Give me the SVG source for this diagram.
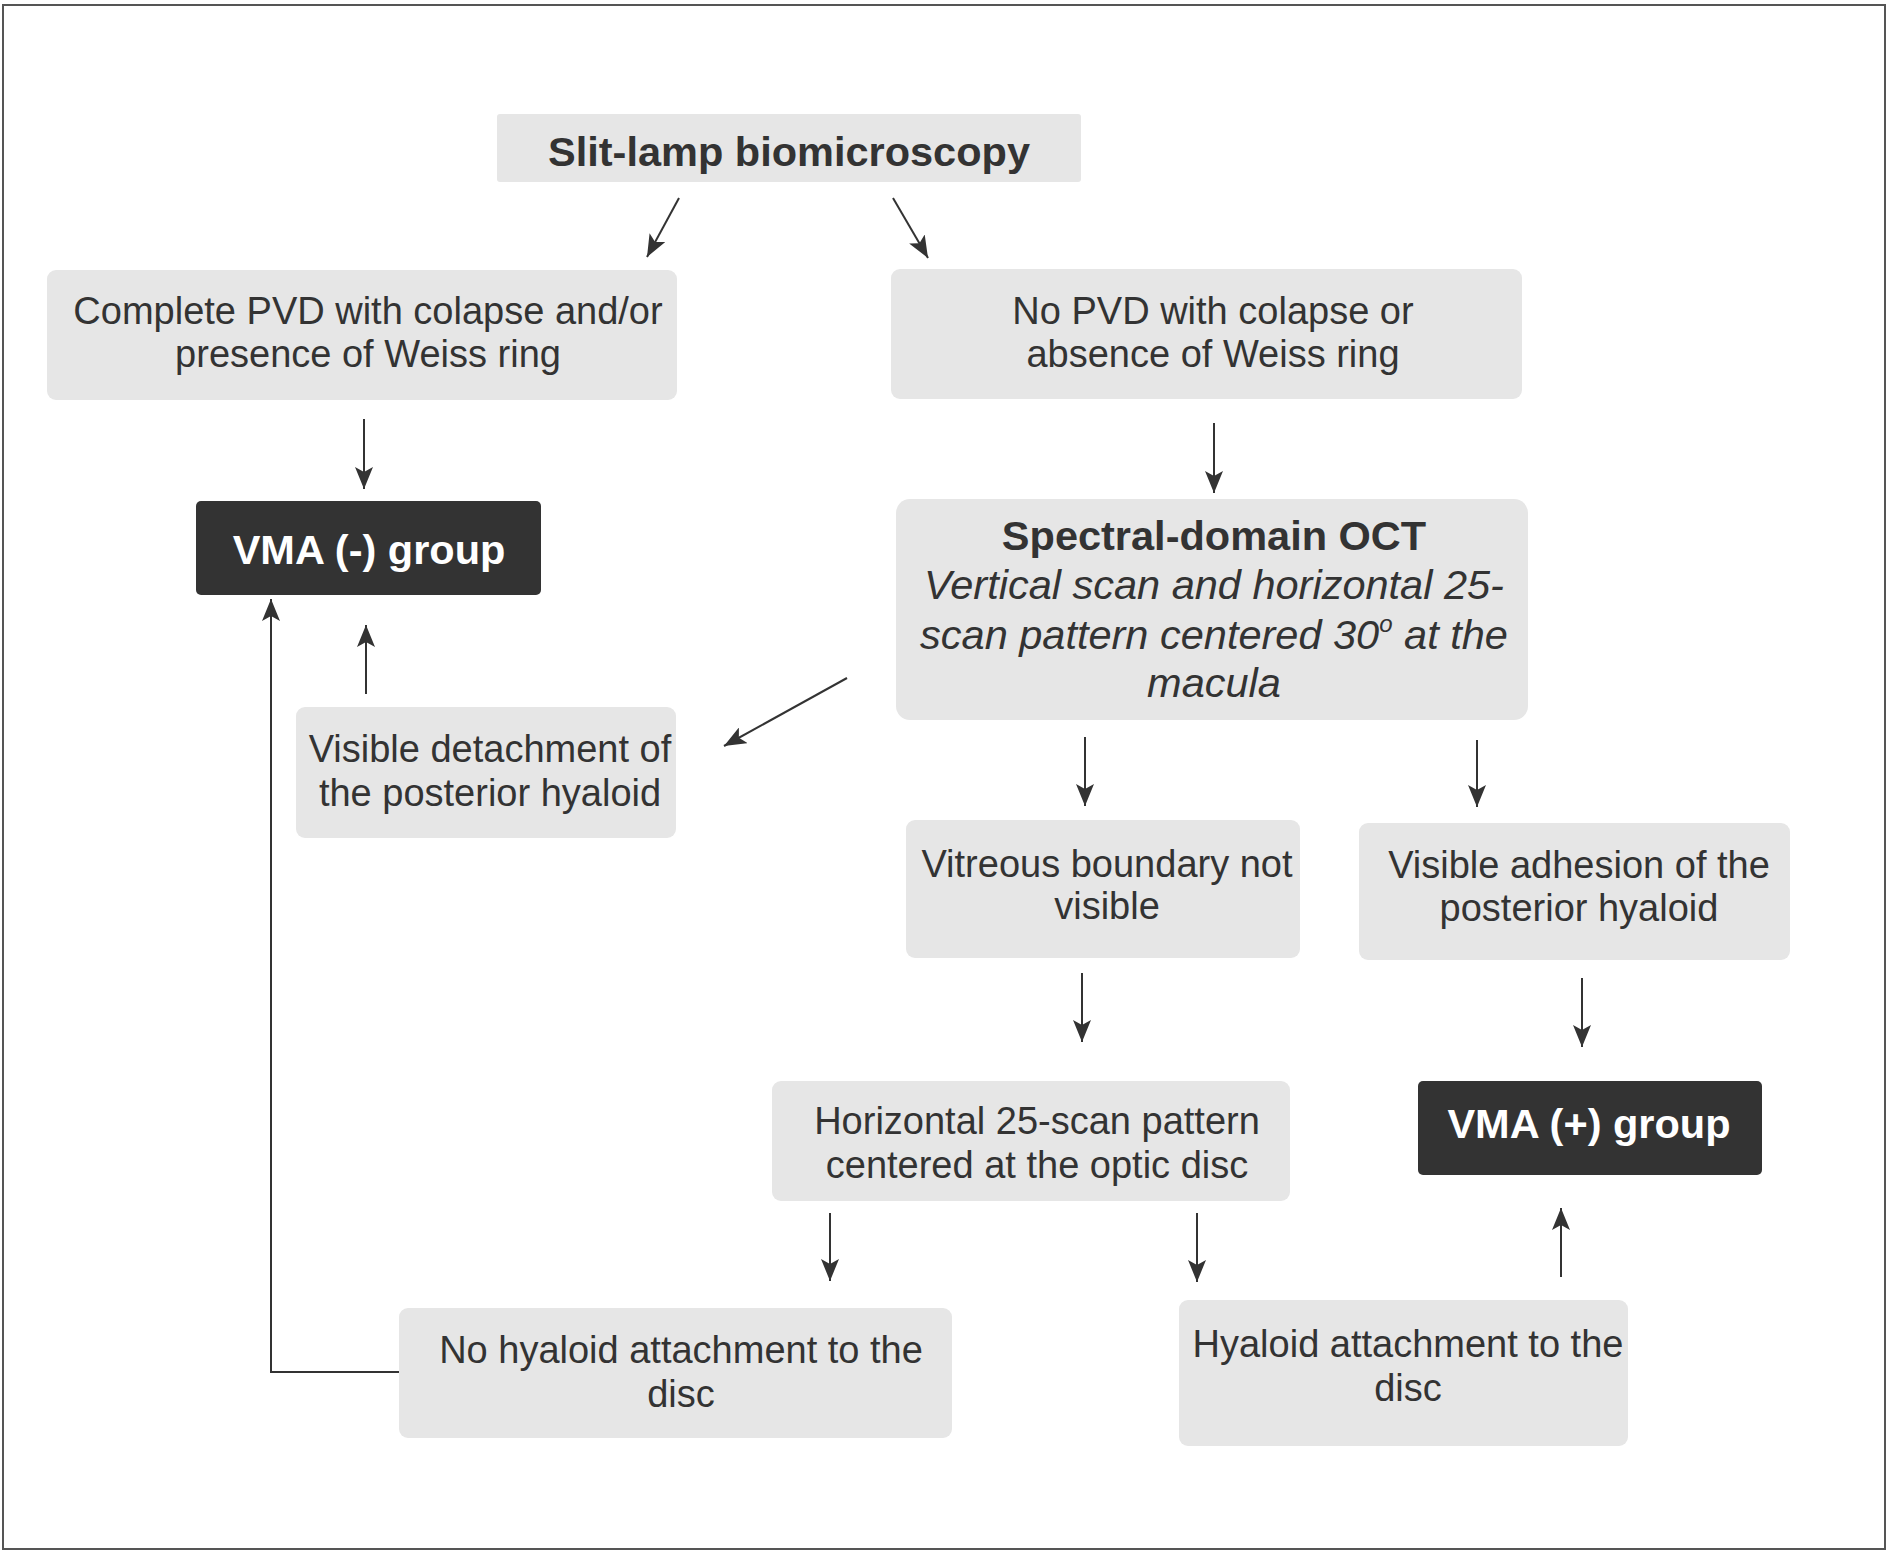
<svg xmlns="http://www.w3.org/2000/svg" width="1889" height="1553" viewBox="0 0 1889 1553">
<style>
.box{fill:#e6e6e6}
.dark{fill:#333333}
.t{font-family:"Liberation Sans",Arial,sans-serif;font-size:38px;fill:#333333;text-anchor:middle}
.b{font-family:"Liberation Sans",Arial,sans-serif;font-size:41.5px;font-weight:bold;fill:#333333;text-anchor:middle}
.w{font-family:"Liberation Sans",Arial,sans-serif;font-size:41.5px;font-weight:bold;fill:#ffffff;text-anchor:middle}
.i{font-family:"Liberation Sans",Arial,sans-serif;font-size:41.5px;font-style:italic;fill:#333333;text-anchor:middle}
.c{fill:none;stroke:#333333;stroke-width:2}
</style>
<defs>
<marker id="ah" markerUnits="userSpaceOnUse" markerWidth="24" markerHeight="18" refX="22" refY="9" orient="auto">
<path d="M0,0 L22,9 L0,18 L5,9 Z" fill="#333333"/>
</marker>
</defs>
<rect x="3" y="5" width="1882" height="1544" fill="#ffffff" stroke="#555555" stroke-width="2"/>
<g id="n-slit"><rect class="box" x="497" y="114" width="584" height="68" rx="3"/><text class="b" x="789" y="166">Slit-lamp biomicroscopy</text></g>
<g id="n-complete"><rect class="box" x="47" y="270" width="630" height="130" rx="9"/><text class="t" x="368" y="324">Complete PVD with colapse and/or</text><text class="t" x="368" y="367">presence of Weiss ring</text></g>
<g id="n-nopvd"><rect class="box" x="891" y="269" width="631" height="130" rx="9"/><text class="t" x="1213" y="324">No PVD with colapse or</text><text class="t" x="1213" y="367">absence of Weiss ring</text></g>
<g id="n-vmaneg"><rect class="dark" x="196" y="501" width="345" height="94" rx="5"/><text class="w" x="369" y="564">VMA (-) group</text></g>
<g id="n-oct"><rect class="box" x="896" y="499" width="632" height="221" rx="14"/><text class="b" x="1214" y="550">Spectral-domain OCT</text><text class="i" x="1214" y="599">Vertical scan and horizontal 25-</text><text class="i" x="1214" y="649">scan pattern centered 30<tspan font-size="24" dy="-17">o</tspan><tspan dy="17"> at the</tspan></text><text class="i" x="1214" y="697">macula</text></g>
<g id="n-detach"><rect class="box" x="296" y="707" width="380" height="131" rx="9"/><text class="t" x="490" y="762">Visible detachment of</text><text class="t" x="490" y="806">the posterior hyaloid</text></g>
<g id="n-vitreous"><rect class="box" x="906" y="820" width="394" height="138" rx="9"/><text class="t" x="1107" y="877">Vitreous boundary not</text><text class="t" x="1107" y="919">visible</text></g>
<g id="n-adhesion"><rect class="box" x="1359" y="823" width="431" height="137" rx="9"/><text class="t" x="1579" y="878">Visible adhesion of the</text><text class="t" x="1579" y="921">posterior hyaloid</text></g>
<g id="n-horizontal"><rect class="box" x="772" y="1081" width="518" height="120" rx="9"/><text class="t" x="1037" y="1134">Horizontal 25-scan pattern</text><text class="t" x="1037" y="1178">centered at the optic disc</text></g>
<g id="n-vmapos"><rect class="dark" x="1418" y="1081" width="344" height="94" rx="5"/><text class="w" x="1589" y="1138">VMA (+) group</text></g>
<g id="n-nohyaloid"><rect class="box" x="399" y="1308" width="553" height="130" rx="9"/><text class="t" x="681" y="1363">No hyaloid attachment to the</text><text class="t" x="681" y="1407">disc</text></g>
<g id="n-hyaloid"><rect class="box" x="1179" y="1300" width="449" height="146" rx="9"/><text class="t" x="1408" y="1357">Hyaloid attachment to the</text><text class="t" x="1408" y="1401">disc</text></g>
<g id="connectors">
<line class="c" x1="679" y1="198" x2="647" y2="257" marker-end="url(#ah)"/>
<line class="c" x1="893" y1="198" x2="928" y2="258" marker-end="url(#ah)"/>
<line class="c" x1="364" y1="419" x2="364" y2="489" marker-end="url(#ah)"/>
<line class="c" x1="1214" y1="423" x2="1214" y2="493" marker-end="url(#ah)"/>
<line class="c" x1="366" y1="694" x2="366" y2="625" marker-end="url(#ah)"/>
<line class="c" x1="847" y1="678" x2="724" y2="746" marker-end="url(#ah)"/>
<line class="c" x1="1085" y1="737" x2="1085" y2="806" marker-end="url(#ah)"/>
<line class="c" x1="1477" y1="740" x2="1477" y2="807" marker-end="url(#ah)"/>
<line class="c" x1="1082" y1="973" x2="1082" y2="1042" marker-end="url(#ah)"/>
<line class="c" x1="1582" y1="978" x2="1582" y2="1047" marker-end="url(#ah)"/>
<line class="c" x1="830" y1="1213" x2="830" y2="1281" marker-end="url(#ah)"/>
<line class="c" x1="1197" y1="1213" x2="1197" y2="1282" marker-end="url(#ah)"/>
<line class="c" x1="1561" y1="1277" x2="1561" y2="1208" marker-end="url(#ah)"/>
<polyline class="c" points="399,1372 271,1372 271,599" marker-end="url(#ah)"/>
</g>
</svg>
